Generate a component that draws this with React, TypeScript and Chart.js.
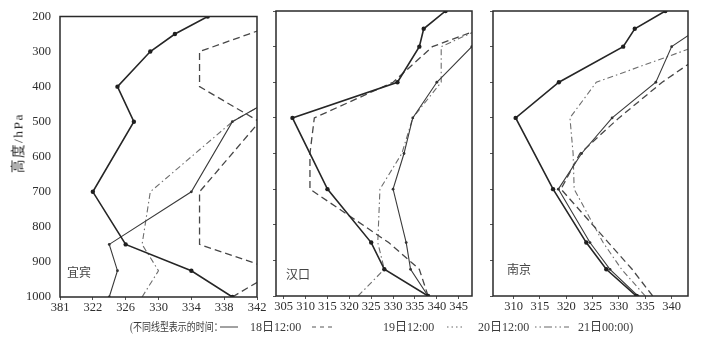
import React, { useEffect, useRef } from 'react';
import { Chart, registerables } from 'chart.js';

Chart.register(...registerables);

// ---------- data ----------
const levelsStd = [1000, 925, 850, 700, 500, 400, 300, 250, 200];
const levelsLow = [1000, 925, 850, 700, 500, 400];
const levelsMid = [1000, 925, 850, 700, 600, 500, 400, 300, 250];

const pressureTicks = [200, 300, 400, 500, 600, 700, 800, 900, 1000];

const yibinTicks = [318, 322, 326, 330, 334, 338, 342];
const yibinTickLabels = ['381', '322', '326', '330', '334', '338', '342'];
const hankouTicks = [305, 310, 315, 320, 325, 330, 335, 340, 345];
const hankouTickLabels = ['305', '310', '315', '320', '325', '330', '335', '340', '345'];
const nanjingTicks = [310, 315, 320, 325, 330, 335, 340];
const nanjingTickLabels = ['310', '315', '320', '325', '330', '335', '340'];

// 宜宾
const yibin18 = [339, 334, 326, 322, 327, 325, 329, 332, 336];
const yibin19 = [339, 344.4, 335, 335, 342.3, 335, 335, 341, 347];
const yibin20 = [324, 325, 324, 334, 339, 346.5];
const yibin21 = [328, 330, 328, 329, 339, 346.5];

// 汉口
const hankou18 = [338, 328, 325, 315, 307, 331, 336, 337, 342];
const hankou19 = [338, 336, 329, 311, 311, 312, 330, 339, 350];
const hankou20 = [338, 334, 333, 330, 332.5, 334.5, 340, 348, 352];
const hankou21 = [322, 328, 326.5, 327, 332, 334.5, 341, 341, 350];

// 南京
const nanjing18 = [333.3, 327.6, 323.8, 317.5, 310.4, 318.6, 330.8, 333, 338.8];
const nanjing19 = [336.4, 332.5, 328, 319, 322.6, 330, 338.2, 348, 353];
const nanjing20 = [333.6, 328.3, 324.5, 318.5, 322.9, 328.7, 337, 340, 345];
const nanjing21 = [335, 330.5, 327, 321.5, 321.3, 320.7, 325.7, 344.5, 352];

const stationNames = ['宜宾', '汉口', '南京'];
const yTitle = '高度/hPa';
const legendIntro = '(不同线型表示的时间：';
const legendTimes = ['18日12:00', '19日12:00', '20日12:00', '21日00:00)'];

// ---------- styles ----------
const SERIF = "'Liberation Serif', 'DejaVu Serif', 'Noto Sans CJK SC', serif";
const CJK = "'Noto Sans CJK SC', 'Liberation Serif', serif";
const TEXT = '#2e2e2e';

const style18 = { borderColor: '#262626', borderWidth: 1.6, borderDash: [], pointRadius: 2.2, pointBackgroundColor: '#1f1f1f', pointBorderWidth: 0 };
const style19 = { borderColor: '#474747', borderWidth: 1.3, borderDash: [7, 4], pointRadius: 0 };
const style20 = { borderColor: '#3a3a3a', borderWidth: 1.1, borderDash: [], pointRadius: 1.4, pointBackgroundColor: '#333', pointBorderWidth: 0 };
const style21 = { borderColor: '#6e6e6e', borderWidth: 1.1, borderDash: [6, 3, 1.5, 3], pointRadius: 0 };

const pts = (lv: number[], vals: number[]) => vals.map((v, i) => ({ x: v, y: lv[i] }));

const panels = [
  {
    left: 0, w: 270, h: 320, yWidth: 60, xHeight: 23, pad: { top: 12, right: 13, left: 0, bottom: 0 },
    xMin: 318, xMax: 342, ticks: yibinTicks, labels: yibinTickLabels, showY: true,
    series: [[levelsStd, yibin18, style18], [levelsStd, yibin19, style19], [levelsLow, yibin20, style20], [levelsLow, yibin21, style21]],
  },
  {
    left: 266, w: 214, h: 320, yWidth: 10, xHeight: 24, pad: { top: 11, right: 8, left: 0, bottom: 0 },
    xMin: 303.24, xMax: 348.04, ticks: hankouTicks, labels: hankouTickLabels, showY: false,
    series: [[levelsStd, hankou18, style18], [levelsMid, hankou19, style19], [levelsMid, hankou20, style20], [levelsMid, hankou21, style21]],
  },
  {
    left: 483, w: 215, h: 320, yWidth: 10, xHeight: 24, pad: { top: 11, right: 10, left: 0, bottom: 0 },
    xMin: 306.1, xMax: 343.1, ticks: nanjingTicks, labels: nanjingTickLabels, showY: false,
    series: [[levelsStd, nanjing18, style18], [levelsMid, nanjing19, style19], [levelsMid, nanjing20, style20], [levelsMid, nanjing21, style21]],
  },
];

const framePlugin = {
  id: 'frame',
  afterDatasetsDraw(chart: any) {
    const { ctx, chartArea: a } = chart;
    ctx.save();
    ctx.strokeStyle = '#2a2a2a';
    ctx.lineWidth = 1.5;
    ctx.strokeRect(a.left, a.top, a.right - a.left, a.bottom - a.top);
    ctx.restore();
  },
};

function Panel({ p }: { p: any }) {
  const ref = useRef<HTMLCanvasElement>(null);
  useEffect(() => {
    const chart = new Chart(ref.current as HTMLCanvasElement, {
      type: 'line',
      data: {
        datasets: p.series.map((s: any) => ({
          data: pts(s[0], s[1]),
          fill: false,
          tension: 0,
          ...s[2],
        })),
      },
      options: {
        animation: false,
        responsive: false,
        events: [],
        layout: { padding: p.pad },
        plugins: { legend: { display: false }, tooltip: { enabled: false } },
        scales: {
          x: {
            type: 'linear',
            min: p.xMin,
            max: p.xMax,
            border: { display: false },
            grid: { drawOnChartArea: false, drawTicks: true, tickLength: 3, color: '#555' },
            afterBuildTicks: (s: any) => { s.ticks = p.ticks.map((v: number) => ({ value: v })); },
            ticks: {
              autoSkip: false,
              maxRotation: 0,
              padding: 0,
              color: TEXT,
              font: { family: SERIF, size: 12.5 },
              callback: (_v: any, i: number) => p.labels[i],
            },
            afterFit: (s: any) => { s.height = p.xHeight; },
          },
          y: {
            type: 'linear',
            reverse: true,
            min: 200,
            max: 1000,
            border: { display: false },
            grid: { drawOnChartArea: false, drawTicks: !p.showY, tickLength: 3, color: '#555' },
            afterBuildTicks: (s: any) => { s.ticks = pressureTicks.map((v) => ({ value: v })); },
            ticks: {
              display: p.showY,
              padding: 9,
              color: TEXT,
              font: { family: SERIF, size: 12.5 },
              callback: (v: any) => String(v),
            },
            afterFit: (s: any) => { s.width = p.yWidth; },
          },
        },
      },
      plugins: [framePlugin],
    } as any);
    return () => chart.destroy();
  }, []);
  return (
    <canvas
      ref={ref}
      width={p.w}
      height={p.h}
      style={{ position: 'absolute', left: p.left, top: 0, width: p.w, height: p.h }}
    />
  );
}

const stationPos = [
  { left: 67, top: 265 },
  { left: 286, top: 267 },
  { left: 507, top: 262 },
];

export default function App() {
  const lineY = 327;
  return (
    <div style={{ position: 'absolute', left: 0, top: 0, width: 710, height: 347, background: '#fff', overflow: 'hidden' }}>
      {panels.map((p, i) => <Panel key={i} p={p} />)}
      <div style={{ position: 'absolute', left: 18, top: 143, transform: 'translate(-50%, -50%) rotate(-90deg)', fontFamily: SERIF, fontSize: 13.5, letterSpacing: '1.5px', color: TEXT, whiteSpace: 'nowrap', lineHeight: '15px' }}>{yTitle}</div>
      {stationNames.map((n, i) => (
        <div key={n} style={{ position: 'absolute', left: stationPos[i].left, top: stationPos[i].top, fontFamily: CJK, fontSize: 12, color: '#444', lineHeight: '14px' }}>{n}</div>
      ))}
      <svg width={710} height={347} style={{ position: 'absolute', left: 0, top: 0 }}>
        <line x1={220} x2={238} y1={lineY} y2={lineY} stroke="#444" strokeWidth={1} />
        <line x1={312} x2={334} y1={lineY} y2={lineY} stroke="#555" strokeWidth={1} strokeDasharray="4 4" />
        <line x1={447} x2={463} y1={lineY} y2={lineY} stroke="#666" strokeWidth={1} strokeDasharray="1.5 3" />
        <line x1={535} x2={569} y1={lineY} y2={lineY} stroke="#666" strokeWidth={1} strokeDasharray="1.5 3 1.5 3 8 3" />
      </svg>
      <div style={{ position: 'absolute', left: 130, top: 319, fontFamily: SERIF, fontSize: 11.5, color: '#3a3a3a', lineHeight: '16px', whiteSpace: 'nowrap', transform: 'scaleX(0.78)', transformOrigin: 'left center' }}>{legendIntro}</div>
      {legendTimes.map((t, i) => (
        <div key={t} style={{ position: 'absolute', left: [250, 383, 478, 578][i], top: 319, fontFamily: SERIF, fontSize: 12, color: '#3a3a3a', lineHeight: '16px', whiteSpace: 'nowrap' }}>{t}</div>
      ))}
    </div>
  );
}
